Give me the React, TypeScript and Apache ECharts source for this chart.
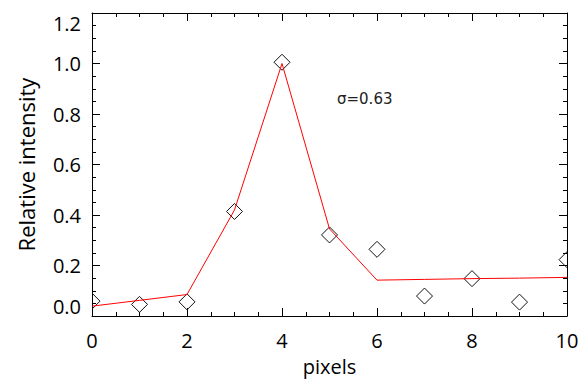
import React, { useEffect, useRef } from "react";
import * as echarts from "echarts";

const pixels = [0, 1, 2, 3, 4, 5, 6, 7, 8, 9, 10];
const observed = [0.059, 0.046, 0.056, 0.414, 1.005, 0.321, 0.264, 0.079, 0.148, 0.055, 0.223];
const fitted = [0.039, 0.062, 0.085, 0.42, 1.0, 0.345, 0.142, 0.145, 0.148, 0.15, 0.153];
const annotation = "σ=0.63";
const xTitle = "pixels";
const yTitle = "Relative intensity";

export default function App() {
  const ref = useRef<HTMLDivElement>(null);
  useEffect(() => {
    document.body.style.margin = "0";
    const chart = echarts.init(ref.current!, null, { renderer: "svg" });
    const font = "'Open Sans', sans-serif";
    const axisCommon = {
      type: "value" as const,
      axisLine: { show: true, onZero: false, lineStyle: { color: "#000", width: 1 } },
      axisTick: { show: true, inside: true, length: 8, lineStyle: { color: "#000" } },
      minorTick: { show: true, splitNumber: 4, length: 4, lineStyle: { color: "#000" } },
      splitLine: { show: false },
      minorSplitLine: { show: false },
    };
    chart.setOption({
      animation: false,
      backgroundColor: "#fff",
      grid: { left: 92, right: 18, top: 13, bottom: 63, containLabel: false },
      xAxis: [
        {
          ...axisCommon,
          position: "bottom",
          min: 0,
          max: 10,
          interval: 2,
          name: xTitle,
          nameLocation: "middle",
          nameGap: 40,
          nameTextStyle: { fontFamily: font, fontSize: 20, color: "#000" },
          axisLabel: { margin: 14, fontFamily: font, fontSize: 20, color: "#000" },
        },
        {
          ...axisCommon,
          position: "top",
          min: 0,
          max: 10,
          interval: 2,
          axisLabel: { show: false },
        },
      ],
      yAxis: [
        {
          ...axisCommon,
          position: "left",
          min: 0,
          max: 1.2,
          interval: 0.2,
          name: yTitle,
          nameLocation: "middle",
          nameGap: 55,
          nameTextStyle: { fontFamily: font, fontSize: 22, color: "#000" },
          axisLabel: {
            margin: 11,
            fontFamily: font,
            fontSize: 20,
            color: "#000",
            formatter: (v: number) => v.toFixed(1),
            verticalAlignMinLabel: "bottom",
            verticalAlignMaxLabel: "top",
          },
        },
        {
          ...axisCommon,
          position: "right",
          min: 0,
          max: 1.2,
          interval: 0.2,
          axisLabel: { show: false },
        },
      ],
      graphic: [
        {
          type: "text",
          left: 337,
          top: 91,
          style: { text: annotation, fontFamily: "'DejaVu Sans', sans-serif", fontSize: 15, fill: "#222" },
        },
      ],
      series: [
        {
          type: "custom",
          clip: true,
          xAxisIndex: 0,
          yAxisIndex: 0,
          data: pixels.map((x, i) => [x, observed[i]]),
          renderItem: (params: any, api: any) => {
            const p = api.coord([api.value(0), api.value(1)]);
            const r = 8;
            return {
              type: "polygon",
              shape: {
                points: [
                  [p[0], p[1] - r],
                  [p[0] + r, p[1]],
                  [p[0], p[1] + r],
                  [p[0] - r, p[1]],
                ],
              },
              style: { fill: "none", stroke: "#111", lineWidth: 1 },
            };
          },
          z: 2,
        },
        {
          type: "line",
          xAxisIndex: 0,
          yAxisIndex: 0,
          data: pixels.map((x, i) => [x, fitted[i]]),
          showSymbol: false,
          symbol: "none",
          lineStyle: { color: "#ff0000", width: 1 },
          z: 3,
        },
      ],
    });
    return () => chart.dispose();
  }, []);
  return <div ref={ref} style={{ width: 585, height: 381 }} />;
}
